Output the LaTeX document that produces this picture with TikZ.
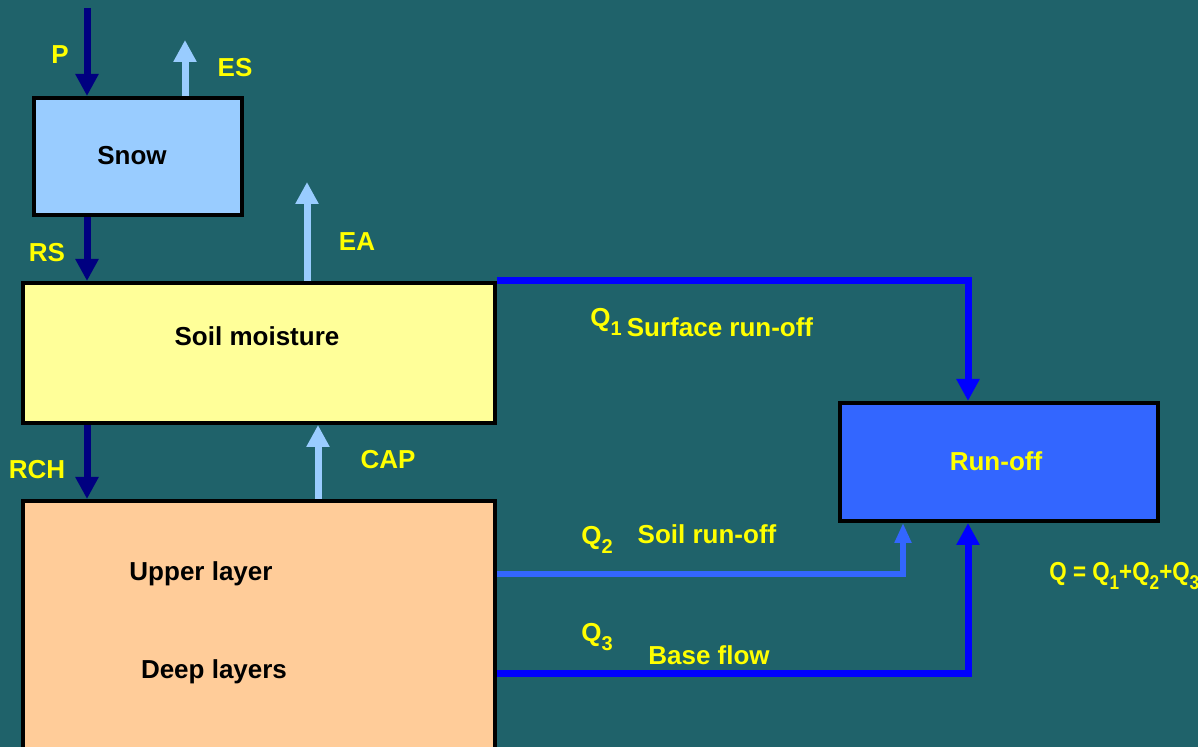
\documentclass[tikz,border=0pt]{standalone}
\usepackage{fontspec}
\setmainfont{Liberation Sans}
\usetikzlibrary{arrows.meta}
\definecolor{bgteal}{RGB}{31,98,106}
\definecolor{snowblue}{RGB}{153,204,255}
\definecolor{soilyellow}{RGB}{255,255,153}
\definecolor{groundorange}{RGB}{255,204,153}
\definecolor{runoffblue}{RGB}{51,102,255}
\definecolor{darknavy}{RGB}{0,0,128}
\definecolor{flowblue}{RGB}{0,0,255}
\definecolor{labelyellow}{RGB}{255,255,0}
\newcommand\qsub[1]{\raisebox{-0.6ex}{\fontsize{10}{10}\selectfont #1}}
\begin{document}
\begin{tikzpicture}[x=0.5pt, y=-0.5pt,
    store/.style={draw=black, line width=2pt, inner sep=0pt, anchor=north west},
    storetext/.style={font=\bfseries\fontsize{13}{15}\selectfont, inner sep=0pt},
    lbl/.style={text=labelyellow, font=\bfseries\fontsize{13}{15}\selectfont, inner sep=0pt},
    downflow/.style={darknavy, line width=3.5pt, -{Triangle[width=11pt, length=11pt]}},
    upflow/.style={snowblue, line width=3.5pt, -{Triangle[width=11pt, length=11pt]}},
    quickflow/.style={flowblue, line width=3.5pt, -{Triangle[width=11pt, length=11pt]}},
    soilflow/.style={runoffblue, line width=3pt, -{Triangle[width=8pt, length=10pt]}}]
    % background
    \useasboundingbox (0,0) rectangle (1198,747);
    \clip (0,0) rectangle (1198,747);
    \fill[bgteal] (0,0) rectangle (1198,747);

    % stores
    \node[store, fill=snowblue, minimum width=104pt, minimum height=58.5pt] (snow) at (32,96) {};
    \node[store, fill=soilyellow, minimum width=236pt, minimum height=70pt] (soil) at (21,281) {};
    \node[store, fill=groundorange, minimum width=236pt, minimum height=140pt] (ground) at (21,499) {};
    \node[store, fill=runoffblue, minimum width=159pt, minimum height=59pt] (runoff) at (838,401) {};

    \node[storetext] (snowtext) at (132,156) {Snow};
    \node[storetext] (soiltext) at (257,336) {Soil moisture};
    \node[storetext] (uppertext) at (201,574) {Upper layer};
    \node[storetext] (deeptext) at (214,672) {Deep layers};
    \node[storetext, text=labelyellow] (runofftext) at (996,461) {Run-off};

    % vertical fluxes
    \coordinate (ptop) at (87,8);
    \coordinate (estop) at (185,40);
    \coordinate (eatop) at (307,182);
    \coordinate (capx) at (318,0);
    \draw[downflow] (ptop) -- (ptop |- snow.north);
    \draw[upflow] (estop |- snow.north) -- (estop);
    \draw[downflow] (snow.south -| ptop) -- (soil.north -| ptop);
    \draw[upflow] (soil.north -| eatop) -- (eatop);
    \draw[downflow] (soil.south -| ptop) -- (ground.north -| ptop);
    \draw[upflow] (ground.north -| capx) -- (soil.south -| capx);

    \node[lbl] (plbl) at (60,55) {P};
    \node[lbl] (eslbl) at (235,68) {ES};
    \node[lbl] (rslbl) at (47,253) {RS};
    \node[lbl] (ealbl) at (357,242) {EA};
    \node[lbl] (rchlbl) at (37,470) {RCH};
    \node[lbl] (caplbl) at (388,460) {CAP};

    % run-off paths
    \coordinate (q1) at (968,281);
    \coordinate (q2) at (903,574);
    \coordinate (q3) at (968,673);
    \draw[quickflow] (soil.east |- q1) -| (runoff.north -| q1);
    \draw[soilflow] (ground.east |- q2) -| (runoff.south -| q2);
    \draw[quickflow] (ground.east |- q3) -| (runoff.south -| q3);

    \node[lbl] (q1lbl) at (606,322) {Q\qsub{1}};
    \node[lbl] (surflbl) at (720,327) {Surface run-off};
    \node[lbl] (q2lbl) at (597,540) {Q\qsub{2}};
    \node[lbl] (soillbl) at (707,534) {Soil run-off};
    \node[lbl] (q3lbl) at (597,637) {Q\qsub{3}};
    \node[lbl] (baselbl) at (709,655) {Base flow};
    \node[lbl, anchor=west] (sumlbl) at (1049,576) {\scalebox{0.86}[1]{Q = Q\qsub{1}+Q\qsub{2}+Q\qsub{3}}};
\end{tikzpicture}
\end{document}
